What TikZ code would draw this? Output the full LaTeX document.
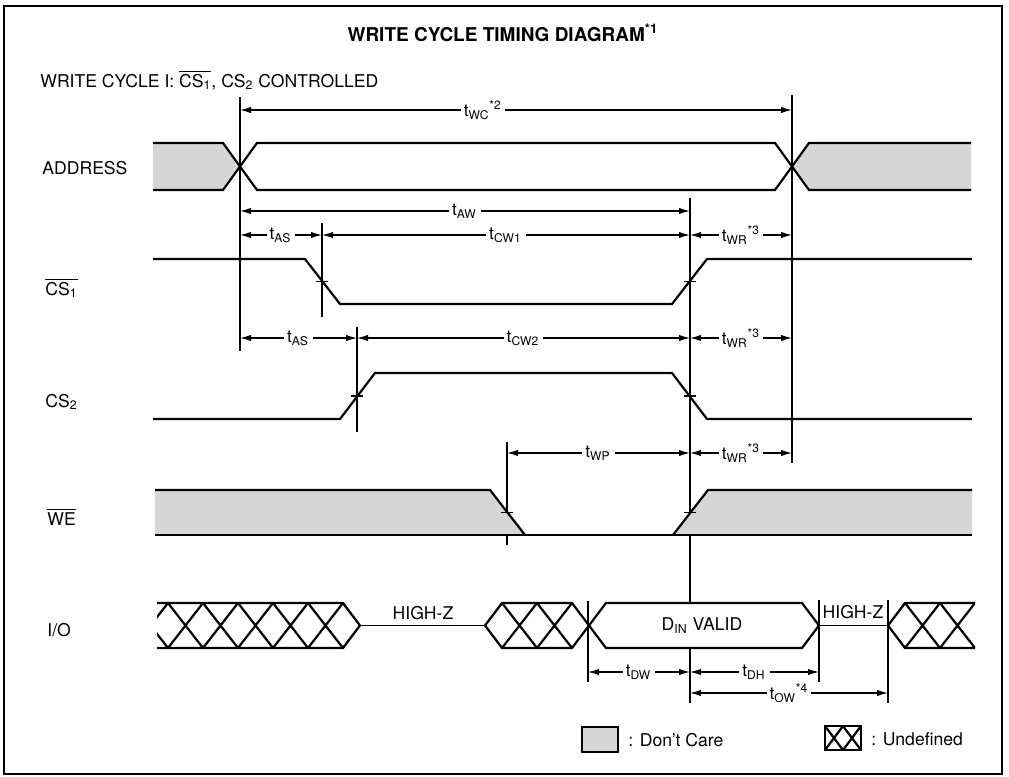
\documentclass[tikz,border=0pt]{standalone}
\usepackage{fontspec}
\setmainfont{TeX Gyre Heros}
\usetikzlibrary{arrows.meta}

\tikzset{sig/.style={line width=1.1pt,line join=miter},
         guide/.style={line width=0.6pt},
         dim/.style={{Latex[length=5.5pt,width=3.2pt]}-{Latex[length=5.5pt,width=3.2pt]},line width=0.6pt},
         tlabel/.style={fill=white,inner sep=1.5pt,font=\fontsize{8.6}{10}\selectfont},
         siglabel/.style={anchor=west,inner sep=0pt,font=\fontsize{8.8}{10}\selectfont},
         dontcare/.style={fill=black!16},
         tick/.style={line width=0.8pt}}
\newcommand{\tname}[2]{t\textsubscript{#1}\textsuperscript{#2}}

\begin{document}
\begin{tikzpicture}[x=0.5pt,y=-0.5pt]
  \useasboundingbox (0,0) rectangle (1009,777);
  \draw[line width=0.8pt] (4,6) rectangle (1002,774);

  % headings
  \node[font=\bfseries\fontsize{9.5}{11}\selectfont] (title) at (503,33) {WRITE CYCLE TIMING DIAGRAM\textsuperscript{*1}};
  \node[siglabel] (mode) at (40,80) {WRITE CYCLE I: $\overline{\mbox{CS\textsubscript{1}}}$, CS\textsubscript{2} CONTROLLED};

  % signal names
  \node[siglabel] (addr) at (42,168) {ADDRESS};
  \node[siglabel] (cs1) at (45,288) {$\overline{\mbox{CS\textsubscript{1}}}$};
  \node[siglabel] (cs2) at (45,402) {CS\textsubscript{2}};
  \node[siglabel] (we) at (47,517) {$\overline{\mbox{WE}}$};
  \node[siglabel] (io) at (47,630) {I/O};

  % event times
  \coordinate (xA) at (240,0);
  \coordinate (xB) at (322,0);
  \coordinate (xC) at (357,0);
  \coordinate (xP) at (507,0);
  \coordinate (xD) at (588,0);
  \coordinate (xW) at (690,0);
  \coordinate (xE) at (792,0);
  \coordinate (xH) at (819,0);
  \coordinate (xQ) at (888,0);

  % guide lines
  \draw[guide] (xA |- 0,97) -- (xA |- 0,351);
  \draw[guide] (xE |- 0,95) -- (xE |- 0,463);
  \draw[guide] (xB |- 0,223) -- (xB |- 0,317);
  \draw[guide] (xC |- 0,327) -- (xC |- 0,432);
  \draw[guide] (xP |- 0,442) -- (xP |- 0,545);
  \draw[guide] (xW |- 0,198) -- (xW |- 0,603);
  \draw[guide] (xW |- 0,648) -- (xW |- 0,703);
  \draw[guide] (xD |- 0,601) -- (xD |- 0,682);
  \draw[guide] (xH |- 0,600) -- (xH |- 0,682);
  \draw[guide] (xQ |- 0,600) -- (xQ |- 0,703);

  % timing intervals
  \draw[dim] (xA |- 0,110) -- node[tlabel,pos=0.44] (twc) {\tname{WC}{*2}} (xE |- 0,110);
  \draw[dim] (xA |- 0,211) -- node[tlabel] (taw) {\tname{AW}{}} (xW |- 0,211);
  \draw[dim] (xA |- 0,235) -- node[tlabel] (tas1) {\tname{AS}{}} (xB |- 0,235);
  \draw[dim] (xB |- 0,235) -- node[tlabel] (tcw1) {\tname{CW1}{}} (xW |- 0,235);
  \draw[dim] (xW |- 0,235) -- node[tlabel] (twr1) {\tname{WR}{*3}} (xE |- 0,235);
  \draw[dim] (xA |- 0,338) -- node[tlabel] (tas2) {\tname{AS}{}} (xC |- 0,338);
  \draw[dim] (xC |- 0,338) -- node[tlabel] (tcw2) {\tname{CW2}{}} (xW |- 0,338);
  \draw[dim] (xW |- 0,338) -- node[tlabel] (twr2) {\tname{WR}{*3}} (xE |- 0,338);
  \draw[dim] (xP |- 0,453) -- node[tlabel] (twp) {\tname{WP}{}} (xW |- 0,453);
  \draw[dim] (xW |- 0,453) -- node[tlabel] (twr3) {\tname{WR}{*3}} (xE |- 0,453);
  \draw[dim] (xD |- 0,672) -- node[tlabel] (tdw) {\tname{DW}{}} (xW |- 0,672);
  \draw[dim] (xW |- 0,672) -- node[tlabel] (tdh) {\tname{DH}{}} (xH |- 0,672);
  \draw[dim] (xW |- 0,693) -- node[tlabel] (tow) {\tname{OW}{*4}} (xQ |- 0,693);

  % ADDRESS
  \fill[dontcare] (153,143) -- (223,143) -- (240,166.5) -- (223,190) -- (153,190) -- cycle;
  \fill[dontcare] (792,166.5) -- (809,143) -- (971,143) -- (971,190) -- (809,190) -- cycle;
  \draw[sig] (153,143) -- (223,143) -- (257,190) -- (775,190) -- (809,143) -- (971,143);
  \draw[sig] (153,190) -- (223,190) -- (257,143) -- (775,143) -- (809,190) -- (971,190);

  % CS1 and CS2
  \draw[sig] (153,259) -- (305,259) -- (340,304) -- (672,304) -- (707,259) -- (972,259);
  \draw[sig] (153,419) -- (340,419) -- (375,373) -- (672,373) -- (707,419) -- (972,419);
  \draw[tick] (xB |- 0,281.5) ++(-6,0) -- ++(12,0);
  \draw[tick] (xW |- 0,281.5) ++(-6,0) -- ++(12,0);
  \draw[tick] (xC |- 0,396) ++(-6,0) -- ++(12,0);
  \draw[tick] (xW |- 0,396) ++(-6,0) -- ++(12,0);

  % WE
  \fill[dontcare] (155,490) -- (490,490) -- (525,535) -- (155,535) -- cycle;
  \fill[dontcare] (673,535) -- (708,490) -- (972,490) -- (972,535) -- cycle;
  \draw[sig] (155,490) -- (490,490) -- (525,535);
  \draw[sig] (155,535) -- (972,535);
  \draw[sig] (673,535) -- (708,490) -- (972,490);
  \draw[tick] (xP |- 0,512.5) ++(-6,0) -- ++(12,0);
  \draw[tick] (xW |- 0,512.5) ++(-6,0) -- ++(12,0);

  % I/O
  \begin{scope}
    \clip (157,603) -- (343,603) -- (360,625.5) -- (343,648) -- (157,648) -- cycle;
    \foreach \x in {133,168,...,343}
      \draw[sig] (\x,603) -- ++(35,45) (\x,648) -- ++(35,-45);
  \end{scope}
  \draw[sig] (157,603) -- (343,603) -- (360,625.5) -- (343,648) -- (157,648);
  \draw[guide] (360,625.5) -- (485,625.5);
  \node[font=\fontsize{8.8}{10}\selectfont,inner sep=0pt] (hz1) at (423,613) {HIGH-Z};
  \begin{scope}
    \clip (485,625.5) -- (502,603) -- (572,603) -- (589,625.5) -- (572,648) -- (502,648) -- cycle;
    \foreach \x in {467,502,537}
      \draw[sig] (\x,603) -- ++(35,45) (\x,648) -- ++(35,-45);
  \end{scope}
  \draw[sig] (589,625.5) -- (572,603) -- (502,603) -- (485,625.5) -- (502,648) -- (572,648) -- cycle;
  \draw[sig] (589,625.5) -- (606,603) -- (802,603) -- (819,625.5) -- (802,648) -- (606,648) -- cycle;
  \node[font=\fontsize{8.8}{10}\selectfont] (din) at (702,625.5) {D\textsubscript{IN} VALID};
  \draw[guide] (819,625.5) -- (888,625.5);
  \node[font=\fontsize{8.8}{10}\selectfont,inner sep=0pt] (hz2) at (853,612) {HIGH-Z};
  \begin{scope}
    \clip (888,625.5) -- (905,603) -- (975,603) -- (975,648) -- (905,648) -- cycle;
    \foreach \x in {870,905,940}
      \draw[sig] (\x,603) -- ++(35,45) (\x,648) -- ++(35,-45);
  \end{scope}
  \draw[sig] (975,603) -- (905,603) -- (888,625.5) -- (905,648) -- (975,648);

  % legend
  \draw[line width=1pt,dontcare] (582,727) rectangle (618,752);
  \node[siglabel] (dclabel) at (628,740) {: Don't Care};
  \draw[line width=1.2pt] (825,726) rectangle (861,750);
  \draw[sig] (825,726) -- (843,750) (843,726) -- (825,750) (843,726) -- (861,750) (861,726) -- (843,750);
  \node[siglabel] (udlabel) at (871,739) {: Undefined};
\end{tikzpicture}
\end{document}
